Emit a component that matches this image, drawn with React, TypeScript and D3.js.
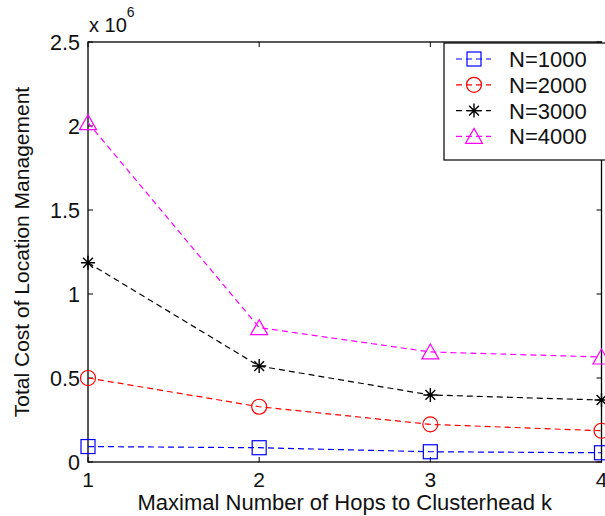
import * as d3 from "d3";

const hops = [1, 2, 3, 4];
const n1000 = [0.092, 0.085, 0.061, 0.055];
const n2000 = [0.5, 0.329, 0.224, 0.186];
const n3000 = [1.186, 0.571, 0.399, 0.369];
const n4000 = [2.02, 0.8, 0.655, 0.625];
const yTicks = [0, 0.5, 1, 1.5, 2, 2.5];
const yTickLabels = ["0", "0.5", "1", "1.5", "2", "2.5"];

const series = [
  { name: "N=1000", values: n1000, color: "#0000ff", marker: "square" },
  { name: "N=2000", values: n2000, color: "#ff0000", marker: "circle" },
  { name: "N=3000", values: n3000, color: "#000000", marker: "star" },
  { name: "N=4000", values: n4000, color: "#ff00ff", marker: "triangle" },
];

const width = 605;
const height = 516;
const margin = { top: 42, right: 3, bottom: 54, left: 88 };
const font = "'Liberation Sans', Arial, Helvetica, sans-serif";

function Marker({ type, x, y, color }: { type: string; x: number; y: number; color: string }) {
  if (type === "square") {
    return <rect x={x - 7} y={y - 7} width={14} height={14} fill="none" stroke={color} strokeWidth={1.2} />;
  }
  if (type === "circle") {
    return <circle cx={x} cy={y} r={7.5} fill="none" stroke={color} strokeWidth={1.2} />;
  }
  if (type === "triangle") {
    const p = `M${x},${y - 8} L${x + 8.5},${y + 7} L${x - 8.5},${y + 7} Z`;
    return <path d={p} fill="none" stroke={color} strokeWidth={1.2} />;
  }
  // star (asterisk)
  const r = 7;
  const d = r * 0.7;
  const p = `M${x - r},${y} L${x + r},${y} M${x},${y - r} L${x},${y + r} M${x - d},${y - d} L${x + d},${y + d} M${x - d},${y + d} L${x + d},${y - d}`;
  return <path d={p} fill="none" stroke={color} strokeWidth={1.4} />;
}

export default function App() {
  const x = d3.scaleLinear().domain([1, 4]).range([margin.left, width - margin.right - 0.5]);
  const y = d3.scaleLinear().domain([0, 2.5]).range([height - margin.bottom, margin.top]);
  const line = d3
    .line<number>()
    .x((_, i) => x(hops[i]))
    .y((d) => y(d));

  const x0 = x(1);
  const x1 = x(4);
  const yB = y(0);
  const yT = y(2.5);
  const tick = 5;

  const legendX = 444;
  const legendY = 43;
  const rowH = 25.8;

  return (
    <svg
      width={width}
      height={height}
      style={{ position: "absolute", left: 0, top: 0, background: "#fff" }}
      fontFamily={font}
    >
      <rect width={width} height={height} fill="#fff" />

      {/* frame */}
      <rect x={x0} y={yT} width={x1 - x0} height={yB - yT} fill="none" stroke="#000" strokeWidth={1.3} />

      {/* y ticks */}
      {yTicks.map((t, i) => (
        <g key={"y" + t}>
          <line x1={x0} x2={x0 + tick} y1={y(t)} y2={y(t)} stroke="#000" />
          <line x1={x1} x2={x1 - tick} y1={y(t)} y2={y(t)} stroke="#000" />
          <text x={x0 - 8} y={y(t)} dy="0.36em" textAnchor="end" fontSize={21.5} fill="#111">
            {yTickLabels[i]}
          </text>
        </g>
      ))}

      {/* x ticks */}
      {hops.map((h) => (
        <g key={"x" + h}>
          <line x1={x(h)} x2={x(h)} y1={yB} y2={yB - tick} stroke="#000" />
          <line x1={x(h)} x2={x(h)} y1={yT} y2={yT + tick} stroke="#000" />
          <text x={x(h)} y={487} textAnchor="middle" fontSize={21} fill="#111">
            {h}
          </text>
        </g>
      ))}

      {/* exponent */}
      <text x={89} y={32} fontSize={20} fill="#111">
        x 10
        <tspan dy={-15} fontSize={14}>6</tspan>
      </text>

      {/* axis labels */}
      <text x={(x0 + x1) / 2} y={510} textAnchor="middle" fontSize={22} fill="#111">
        Maximal Number of Hops to Clusterhead k
      </text>
      <text
        transform={`translate(29,${(yT + yB) / 2}) rotate(-90)`}
        textAnchor="middle"
        fontSize={21}
        fill="#111"
      >
        Total Cost of Location Management
      </text>

      {/* series */}
      {series.map((s) => (
        <g key={s.name}>
          <path d={line(s.values) || ""} fill="none" stroke={s.color} strokeWidth={1.2} strokeDasharray="6,4" />
          {s.values.map((v, i) => (
            <Marker key={i} type={s.marker} x={x(hops[i])} y={y(v)} color={s.color} />
          ))}
        </g>
      ))}

      {/* legend */}
      <rect x={legendX} y={legendY} width={200} height={117} fill="#fff" stroke="#000" strokeWidth={1.2} />
      {series.map((s, i) => {
        const cy = legendY + 16 + i * rowH;
        return (
          <g key={"lg" + s.name}>
            <line x1={456} x2={491} y1={cy} y2={cy} stroke={s.color} strokeWidth={1.2} strokeDasharray="6,4" />
            <Marker type={s.marker} x={474} y={cy} color={s.color} />
            <text x={509} y={cy} dy="0.36em" fontSize={22} fill="#111">
              {s.name}
            </text>
          </g>
        );
      })}
    </svg>
  );
}
